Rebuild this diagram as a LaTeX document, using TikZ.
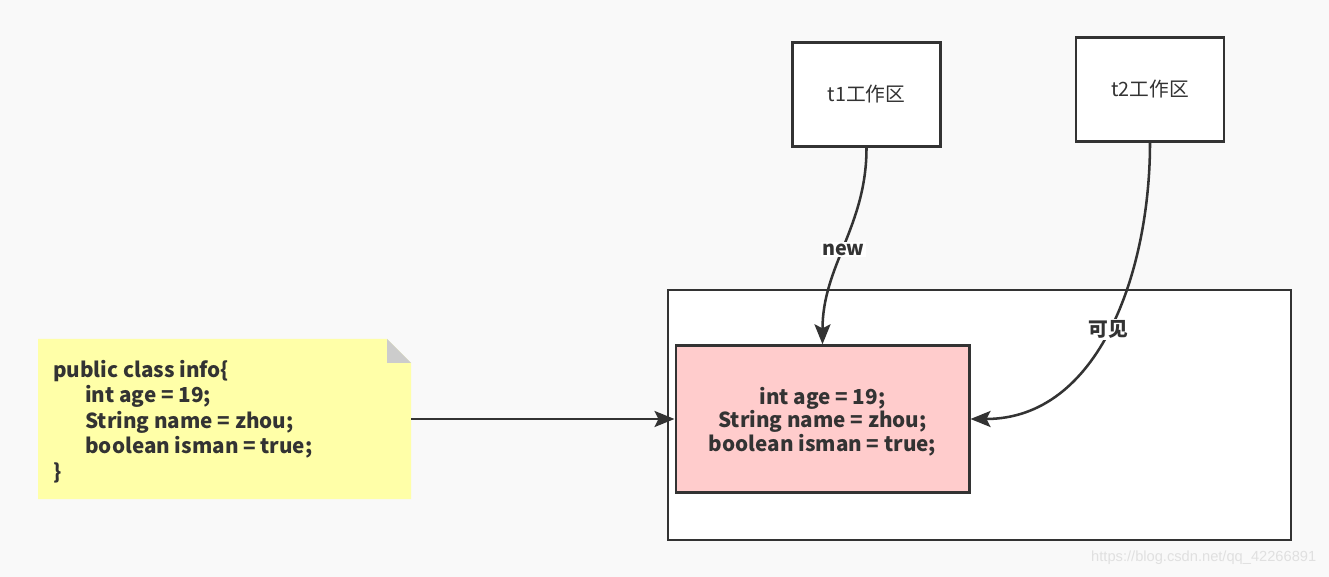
\documentclass[tikz,border=0pt]{standalone}
\usepackage{fontspec}
\setmainfont{Noto Sans CJK SC}
\newfontfamily\markfont{Liberation Sans}
\usepackage{xcolor}
\usetikzlibrary{arrows.meta,positioning}
\definecolor{pagebg}{HTML}{F9F9F9}
\definecolor{edge}{HTML}{333333}
\definecolor{notefill}{HTML}{FFFFA8}
\definecolor{notefold}{HTML}{CCCCCC}
\definecolor{heapfill}{HTML}{FFCCCC}
\tikzset{
  work/.style={rectangle,draw=edge,line width=2pt,fill=white,minimum width=111pt,minimum height=78pt,font=\fontsize{14.8}{17}\selectfont,text=edge},
  heap/.style={rectangle,draw=edge,line width=2pt,fill=heapfill,minimum width=220pt,minimum height=110pt,align=center,font=\bfseries\fontsize{15.5}{17.6}\selectfont,text=edge},
  codetxt/.style={align=left,inner sep=0pt,font=\bfseries\fontsize{15.5}{19.1}\selectfont,text=edge},
  lbl/.style={font=\bfseries\fontsize{14.8}{17}\selectfont,text=edge,inner sep=1pt},
  darr/.style={-{Stealth[length=15pt,width=12pt,inset=3pt]},edge,line width=1.9pt},
}

\begin{document}
\begin{tikzpicture}[x=0.75pt,y=-0.75pt]
        \fill[pagebg] (0,0) rectangle (1329,577);
        \useasboundingbox (0,0) rectangle (1329,577);
        % note with folded corner
        \fill[notefill] (38,339) -- (387,339) -- (411,363) -- (411,499) -- (38,499) -- cycle;
        \fill[notefold] (387,339) -- (387,363) -- (411,363) -- cycle;
        \node[codetxt,anchor=north west] (code) at (53,360) {public class info\{\\
          \hspace*{24pt}int age = 19;\\
          \hspace*{24pt}String name = zhou;\\
          \hspace*{24pt}boolean isman = true;\\
          \}};
        \coordinate (noteR) at (411,419);
        % memory
        \draw[edge,line width=2pt,fill=white] (668,290) rectangle (1291,540);
        \node[heap] (obj) at (822.5,419) {\rule{0pt}{17pt}int age = 19;\\String name = zhou;\\boolean isman = true;};
        \node[work] (t1) at (866.5,94.5) {t1工作区};
        \node[work] (t2) at (1150,89.5) {t2工作区};
        \draw[darr] (noteR) -- (obj.west);
        \draw[darr] (t1.south) to[out=-90,in=90] node[lbl,fill=white,pos=0.52] {new} (obj.north);
        \draw[darr] (t2.south) to[out=-90,in=0] node[lbl,pos=0.5,fill=white] {可见} (obj.east);
        \node[font=\markfont\fontsize{11}{13}\selectfont,text=black!12,anchor=east] (mark) at (1321,558) {https://blog.csdn.net/qq\_42266891};
      \end{tikzpicture}
\end{document}
